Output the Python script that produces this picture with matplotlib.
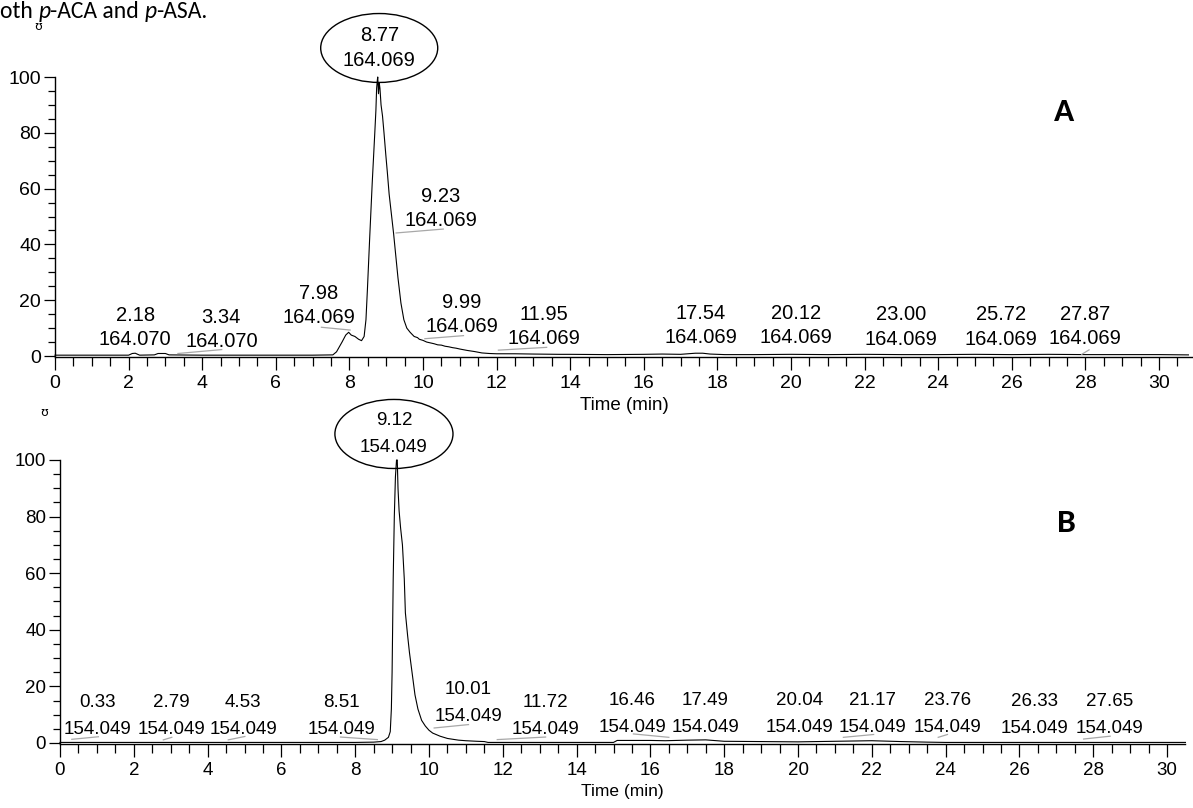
import matplotlib
matplotlib.use("Agg")
import matplotlib.pyplot as plt
from matplotlib.patches import Ellipse
from matplotlib.ticker import MultipleLocator

# ---- data ----
# A : m/z 164.069 trace
a_time = [0.0, 1.0, 2.0, 2.1, 2.18, 2.3, 2.7, 2.8, 3.0, 3.1, 4.0, 5.0, 6.0, 7.0, 7.55,
          7.65, 7.8, 7.9, 7.98, 8.05, 8.15, 8.25, 8.33, 8.4, 8.45, 8.49, 8.55, 8.62,
          8.69, 8.72, 8.74, 8.76, 8.77, 8.79, 8.81, 8.83, 8.86, 8.9, 8.94, 8.99, 9.03,
          9.08, 9.14, 9.2, 9.26, 9.32, 9.4, 9.48, 9.56, 9.65, 9.76, 9.85, 9.9, 10.0,
          10.1, 10.2, 10.3, 10.4, 10.5, 10.6, 10.7, 10.8, 10.9, 11.0, 11.2, 11.4, 11.6,
          11.8, 12.0, 12.5, 13.0, 13.7, 14.0, 15.0, 16.0, 16.5, 17.0, 17.4, 17.6, 17.8,
          18.2, 19.0, 20.0, 21.0, 22.0, 23.0, 24.0, 25.0, 26.0, 27.0, 28.0, 29.0, 30.0,
          30.8]
a_value = [0.3, 0.3, 0.3, 0.9, 1.0, 0.3, 0.4, 0.9, 0.9, 0.4, 0.3, 0.3, 0.3, 0.3, 0.4,
           1.5, 5.0, 7.5, 8.5, 7.5, 7.0, 6.0, 5.5, 7.0, 13.0, 24.0, 42.0, 62.0,
           80.0, 88.0, 96.0, 99.0, 100.0, 94.0, 98.0, 96.0, 90.0, 86.0, 80.0, 72.0, 66.0,
           58.0, 51.0, 44.0, 36.0, 28.0, 19.0, 13.0, 10.0, 8.5, 7.0, 6.6, 6.0, 5.6,
           5.0, 4.7, 4.4, 4.0, 3.9, 3.5, 3.3, 3.0, 2.8, 2.5, 2.0, 1.6, 1.1,
           0.9, 0.8, 0.8, 0.7, 0.6, 0.6, 0.5, 0.6, 0.7, 0.6, 1.0, 1.0, 0.7,
           0.5, 0.5, 0.6, 0.5, 0.6, 0.5, 0.5, 0.6, 0.5, 0.6, 0.5, 0.5, 0.5,
           0.4]

# B : m/z 154.049 trace
b_time = [0.0, 2.0, 4.0, 6.0, 8.0, 8.5, 8.7, 8.8, 8.9, 8.95, 8.98, 9.0, 9.03, 9.06,
          9.09, 9.12, 9.14, 9.16, 9.19, 9.23, 9.28, 9.33, 9.36, 9.42, 9.47, 9.55, 9.62,
          9.7, 9.8, 9.9, 10.0, 10.1, 10.3, 10.5, 10.8, 11.0, 11.3, 11.5, 11.6, 12.0,
          13.0, 14.0, 15.0, 15.1, 16.0, 16.4, 17.0, 17.5, 18.0, 19.0, 20.0, 21.0,
          22.0, 22.8, 23.5, 24.0, 25.0, 26.0, 27.0, 28.0, 29.0, 30.5]
b_value = [0.2, 0.2, 0.2, 0.2, 0.2, 0.3, 0.5, 1.0, 2.0, 4.0, 12.0, 25.0, 58.0, 80.0,
           94.0, 100.0, 100.0, 90.0, 82.0, 76.0, 70.0, 58.0, 46.0, 38.0, 32.0, 24.0, 17.0,
           12.0, 8.0, 6.0, 4.5, 3.5, 2.4, 1.6, 1.0, 0.8, 0.6, 0.5, 0.2, 0.2,
           0.2, 0.2, 0.2, 0.9, 0.9, 0.8, 1.0, 1.1, 0.6, 0.5, 0.4, 0.6,
           0.8, 0.5, 0.3, 0.2, 0.2, 0.2, 0.2, 0.2, 0.2, 0.2]

# peak labels: retention time, m/z
a_rt = ["2.18", "3.34", "7.98", "9.23", "9.99", "11.95", "17.54", "20.12", "23.00", "25.72", "27.87"]
a_mz = ["164.070", "164.070", "164.069", "164.069", "164.069", "164.069",
        "164.069", "164.069", "164.069", "164.069", "164.069"]
a_main = ("8.77", "164.069")

b_rt = ["0.33", "2.79", "4.53", "8.51", "10.01", "11.72", "16.46", "17.49", "20.04",
        "21.17", "23.76", "26.33", "27.65"]
b_mz = ["154.049"] * 13
b_main = ("9.12", "154.049")

# where the labels sit (data coords) and their grey leader lines
a_lab_xy = [(2.18, 10.1), (4.52, 9.4), (7.16, 18.0), (10.49, 53.0), (11.05, 15.0),
            (13.29, 10.7), (17.55, 10.8), (20.13, 10.8), (22.99, 10.4), (25.71, 10.4),
            (27.99, 10.6)]
a_leaders = [((3.34, 0.9), (4.53, 2.3)), ((7.24, 10.3), (8.02, 9.3)),
             ((9.27, 44.1), (10.55, 45.5)), ((10.05, 6.2), (11.1, 7.3)),
             ((12.05, 2.1), (13.36, 3.1)), ((27.9, 0.6), (28.1, 2.2))]
b_lab_xy = [(1.02, 9.6), (3.03, 9.6), (4.96, 9.6), (7.64, 9.6), (11.07, 14.0),
            (13.16, 9.6), (15.51, 10.2), (17.49, 10.2), (20.05, 10.2), (22.03, 10.2),
            (24.05, 10.2), (26.41, 9.9), (28.44, 9.9)]
b_leaders = [((0.32, 1.3), (1.04, 2.2)), ((2.8, 1.1), (3.03, 2.0)), ((4.56, 1.1), (5.01, 2.3)),
             ((7.6, 2.1), (8.6, 1.2)), ((10.14, 5.3), (11.07, 6.5)), ((11.85, 1.2), (13.16, 2.1)),
             ((15.54, 3.2), (16.5, 2.0)), ((21.23, 2.0), (22.05, 3.0)), ((23.8, 2.0), (24.05, 3.0)),
             ((27.74, 1.4), (28.46, 2.4))]

W, H = 1193, 808
fig = plt.figure(figsize=(W / 100, H / 100), dpi=100)

LAB_FONT = ["Liberation Sans", "Arial", "DejaVu Sans"]
BOLD_FONT = ["Carlito", "Lato", "DejaVu Sans"]
GREY = "#a8a8a8"


def px_axes(left, top, right, bottom):
    return fig.add_axes([left / W, 1 - bottom / H, (right - left) / W, (bottom - top) / H])


def style_axes(ax, xmax, fs):
    ax.set_xlim(0, xmax)
    ax.set_ylim(-0.5, 100)
    for s in ["top", "right"]:
        ax.spines[s].set_visible(False)
    for s in ["left", "bottom"]:
        ax.spines[s].set_linewidth(1.0)
    ax.xaxis.set_major_locator(MultipleLocator(2))
    ax.xaxis.set_minor_locator(MultipleLocator(0.5))
    ax.yaxis.set_major_locator(MultipleLocator(20))
    ax.yaxis.set_minor_locator(MultipleLocator(5))
    ax.tick_params(axis="x", which="major", length=9.5, width=0.9, pad=3)
    ax.tick_params(axis="x", which="minor", length=6.5, width=0.9)
    ax.tick_params(axis="y", which="major", length=8, width=0.9, pad=2)
    ax.tick_params(axis="y", which="minor", length=5, width=0.9)
    for lab in ax.get_xticklabels() + ax.get_yticklabels():
        lab.set_family(LAB_FONT)
        lab.set_fontsize(fs)


def draw_panel(ax, t, v, rts, mzs, lab_xy, leaders, main, ell, fs, ls):
    ax.plot(t, v, color="black", lw=0.8, clip_on=False)
    for (p0, p1) in leaders:
        ax.plot([p0[0], p1[0]], [p0[1], p1[1]], color=GREY, lw=0.9, clip_on=False)
    for rt, mz, (x, y) in zip(rts, mzs, lab_xy):
        ax.text(x, y, f"{rt}\n{mz}", ha="center", va="center", fontsize=fs,
                family=LAB_FONT, linespacing=ls)
    cx, cy, w, h = ell
    ax.add_patch(Ellipse((cx, cy), w, h, fill=False, ec="black", lw=1.0, clip_on=False))
    ax.text(cx, cy, f"{main[0]}\n{main[1]}", ha="center", va="center", fontsize=fs,
            family=LAB_FONT, linespacing=ls)


# ---- panel A ----
axA = px_axes(55, 77, 1193, 357.4)
style_axes(axA, (1193 - 55) / 36.8, 14)
draw_panel(axA, a_time, a_value, a_rt, a_mz, a_lab_xy, a_leaders, a_main,
           (8.81, 110.4, 3.18, 24.7), 14.5, 1.35)
axA.set_xlabel("Time (min)", family=LAB_FONT, fontsize=13.5, labelpad=4)
axA.text(0.887, 0.875, "A", transform=axA.transAxes, fontsize=24, fontweight="bold",
         family=BOLD_FONT, ha="center", va="center")

# ---- panel B ----
axB = px_axes(60, 460, 1185, 744.4)
style_axes(axB, (1185 - 60) / 36.9, 13.5)
draw_panel(axB, b_time, b_value, b_rt, b_mz, b_lab_xy, b_leaders, b_main,
           (9.05, 109.2, 3.2, 24.4), 13.5, 1.75)
axB.set_xlabel("Time (min)", family=LAB_FONT, fontsize=12.5, labelpad=4)
axB.text(0.895, 0.78, "B", transform=axB.transAxes, fontsize=24, fontweight="bold",
         family=BOLD_FONT, ha="center", va="center")

# clipped remnants of the y-axis titles
fig.text(38 / W, 1 - 27 / H, "ʊ", fontsize=9, ha="center", va="center", family="DejaVu Sans")
fig.text(44 / W, 1 - 413 / H, "ʊ", fontsize=9, ha="center", va="center", family="DejaVu Sans")

# caption fragment at the top of the page
renderer = fig.canvas.get_renderer()
x = 0.0
for piece, style in [("oth ", "normal"), ("p", "italic"), ("-ACA and ", "normal"),
                     ("p", "italic"), ("-ASA.", "normal")]:
    txt = fig.text(x, 0.999, piece, fontsize=17, style=style, family=BOLD_FONT,
                   va="top", ha="left")
    bb = txt.get_window_extent(renderer=renderer)
    x += bb.width / W

fig.savefig("out.png", dpi=100)
